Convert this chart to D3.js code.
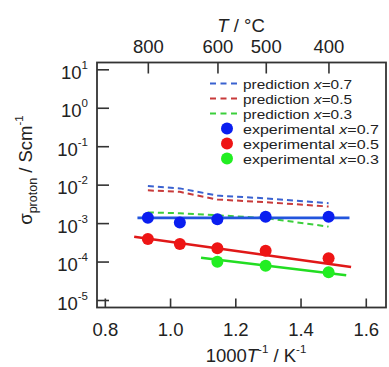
<!DOCTYPE html>
<html><head><meta charset="utf-8">
<script src="https://cdn.jsdelivr.net/npm/d3@7"></script>
<style>body{margin:0;background:#fff}svg{display:block}text{font-family:"Liberation Sans",Arial,sans-serif;fill:#222}</style>
</head><body><svg id="c" width="389" height="367"></svg>
<script>
// data
const xPoints = [0.932, 1.030, 1.145, 1.293, 1.486];
const predX07 = [9.2e-3, 8.0e-3, 5.2e-3, 4.4e-3, 3.3e-3];
const predX05 = [7.1e-3, 6.5e-3, 4.1e-3, 3.5e-3, 2.7e-3];
const predX03 = [1.9e-3, 1.8e-3, 1.6e-3, 1.35e-3, 8.1e-4];
const expX07 = [1.38e-3, 1.03e-3, 1.26e-3, 1.47e-3, 1.47e-3];
const expX05 = [3.86e-4, 2.86e-4, 2.21e-4, 1.91e-4, 1.22e-4];
const expX03x = [1.145, 1.293, 1.486];
const expX03 = [9.9e-5, 7.8e-5, 5.25e-5];
const fitX07 = [[0.90, 1.37e-3], [1.55, 1.37e-3]];
const fitX05 = [[0.89, 4.43e-4], [1.555, 7.2e-5]];
const fitX03 = [[1.095, 1.26e-4], [1.54, 4.4e-5]];
const xTicks = [0.8, 1.0, 1.2, 1.4, 1.6];
const yTickExps = [1, 0, -1, -2, -3, -4, -5];
const topTicksC = [800, 600, 500, 400];
const legendLabels = ["prediction", "prediction", "prediction", "experimental", "experimental", "experimental"];
const legendX = ["0.7", "0.5", "0.3", "0.7", "0.5", "0.3"];

const L = 97, R = 386, T = 62.5, B = 307.5;
const svg = d3.select("#c");
const x = d3.scaleLinear().domain([0.776, 1.662]).range([L, R]);
const y = d3.scaleLog().domain([Math.pow(10, -5.195), Math.pow(10, 1.177)]).range([B, T]);

const cBlueD = "#3a62d0", cRedD = "#c83a3a", cGreenD = "#3ccf3c";
const cBlue = "#0a1ef0", cRed = "#ee1515", cGreen = "#22ee22";
const cBlueL = "#2255dd", cRedL = "#e01818", cGreenL = "#22dd22";
const axisC = "#333";

// frame
svg.append("rect").attr("x", L).attr("y", T).attr("width", R - L).attr("height", B - T)
  .attr("fill", "none").attr("stroke", axisC).attr("stroke-width", 1.8);

// bottom axis
const bx = d3.axisBottom(x).tickValues(xTicks).tickSizeInner(-9).tickSizeOuter(0).tickPadding(15).tickFormat(d3.format(".1f"));
const gB = svg.append("g").attr("transform", `translate(0,${B})`).call(bx);
gB.select(".domain").remove();
gB.selectAll(".tick line").attr("stroke", axisC).attr("stroke-width", 1.6);
gB.selectAll(".tick text").attr("font-size", 18.5).attr("fill", "#222").attr("font-family", "Liberation Sans, Arial, sans-serif");

// left axis (custom labels with superscripts)
const ly = d3.axisLeft(y).tickValues(yTickExps.map(e => Math.pow(10, e))).tickSizeInner(-12).tickSizeOuter(0).tickFormat("");
const gL = svg.append("g").attr("transform", `translate(${L},0)`).call(ly);
gL.select(".domain").remove();
gL.selectAll(".tick line").attr("stroke", axisC).attr("stroke-width", 1.6);
yTickExps.forEach(e => {
  const t = svg.append("text").attr("x", 88).attr("y", y(Math.pow(10, e)) + 9.5).attr("text-anchor", "end");
  t.append("tspan").attr("font-size", 18.5).text("10");
  t.append("tspan").attr("font-size", 11.5).attr("dy", -10).text(String(e));
});

// top axis
const topVals = topTicksC.map(c => 1000 / (c + 273.15));
const tx = d3.axisTop(x).tickValues(topVals).tickSizeInner(-11).tickSizeOuter(0).tickPadding(10)
  .tickFormat((d, i) => String(topTicksC[i]));
const gT = svg.append("g").attr("transform", `translate(0,${T})`).call(tx);
gT.select(".domain").remove();
gT.selectAll(".tick line").attr("stroke", axisC).attr("stroke-width", 1.6);
gT.selectAll(".tick text").attr("font-size", 18.5).attr("fill", "#222").attr("font-family", "Liberation Sans, Arial, sans-serif");

// axis titles
const tt = svg.append("text").attr("x", 241).attr("y", 32).attr("text-anchor", "middle").attr("font-size", 18.5);
tt.append("tspan").attr("font-style", "italic").text("T");
tt.append("tspan").text(" / °C");

const bt = svg.append("text").attr("x", 256).attr("y", 362).attr("text-anchor", "middle").attr("font-size", 18.5);
bt.append("tspan").text("1000");
bt.append("tspan").attr("font-style", "italic").text("T");
bt.append("tspan").attr("font-size", 11.5).attr("dy", -9).text("-1");
bt.append("tspan").attr("dy", 9).text(" / K");
bt.append("tspan").attr("font-size", 11.5).attr("dy", -9).text("-1");

const yt = svg.append("text").attr("transform", "translate(32,170) rotate(-90)").attr("text-anchor", "middle").attr("font-size", 18.5);
yt.append("tspan").text("σ");
yt.append("tspan").attr("font-size", 12.5).attr("dy", 5).text("proton");
yt.append("tspan").attr("dy", -5).text(" / Scm");
yt.append("tspan").attr("font-size", 11.5).attr("dy", -9).text("-1");

// prediction dashed lines
const line = d3.line().x(d => x(d[0])).y(d => y(d[1]));
[[predX07, cBlueD], [predX05, cRedD], [predX03, cGreenD]].forEach(([vals, col]) => {
  svg.append("path").datum(xPoints.map((xv, i) => [xv, vals[i]])).attr("d", line)
    .attr("fill", "none").attr("stroke", col).attr("stroke-width", 2).attr("stroke-dasharray", "6,4");
});

// fit lines
[[fitX07, cBlueL], [fitX05, cRedL], [fitX03, cGreenL]].forEach(([pts, col]) => {
  svg.append("path").datum(pts).attr("d", line).attr("fill", "none").attr("stroke", col).attr("stroke-width", 2.6);
});

// experimental points
[[xPoints, expX07, cBlue], [xPoints, expX05, cRed], [expX03x, expX03, cGreen]].forEach(([xs, vals, col]) => {
  svg.append("g").selectAll("circle").data(xs.map((xv, i) => [xv, vals[i]])).join("circle")
    .attr("cx", d => x(d[0])).attr("cy", d => y(d[1])).attr("r", 6).attr("fill", col);
});

// legend
const legCols = [cBlueD, cRedD, cGreenD, cBlue, cRed, cGreen];
legendLabels.forEach((lab, i) => {
  const cy = 83.5 + i * 15;
  if (i < 3) {
    svg.append("line").attr("x1", 210).attr("x2", 241).attr("y1", cy).attr("y2", cy)
      .attr("stroke", legCols[i]).attr("stroke-width", 2).attr("stroke-dasharray", "6,4.5");
  } else {
    svg.append("circle").attr("cx", 227).attr("cy", cy).attr("r", 6).attr("fill", legCols[i]);
  }
  const t = svg.append("text").attr("x", 243).attr("y", cy + 5).attr("font-size", 13.3)
    .attr("textLength", i < 3 ? 109 : 136).attr("lengthAdjust", "spacingAndGlyphs");
  t.append("tspan").text(lab + " ");
  t.append("tspan").attr("font-style", "italic").text("x");
  t.append("tspan").text("=" + legendX[i]);
});
</script></body></html>
